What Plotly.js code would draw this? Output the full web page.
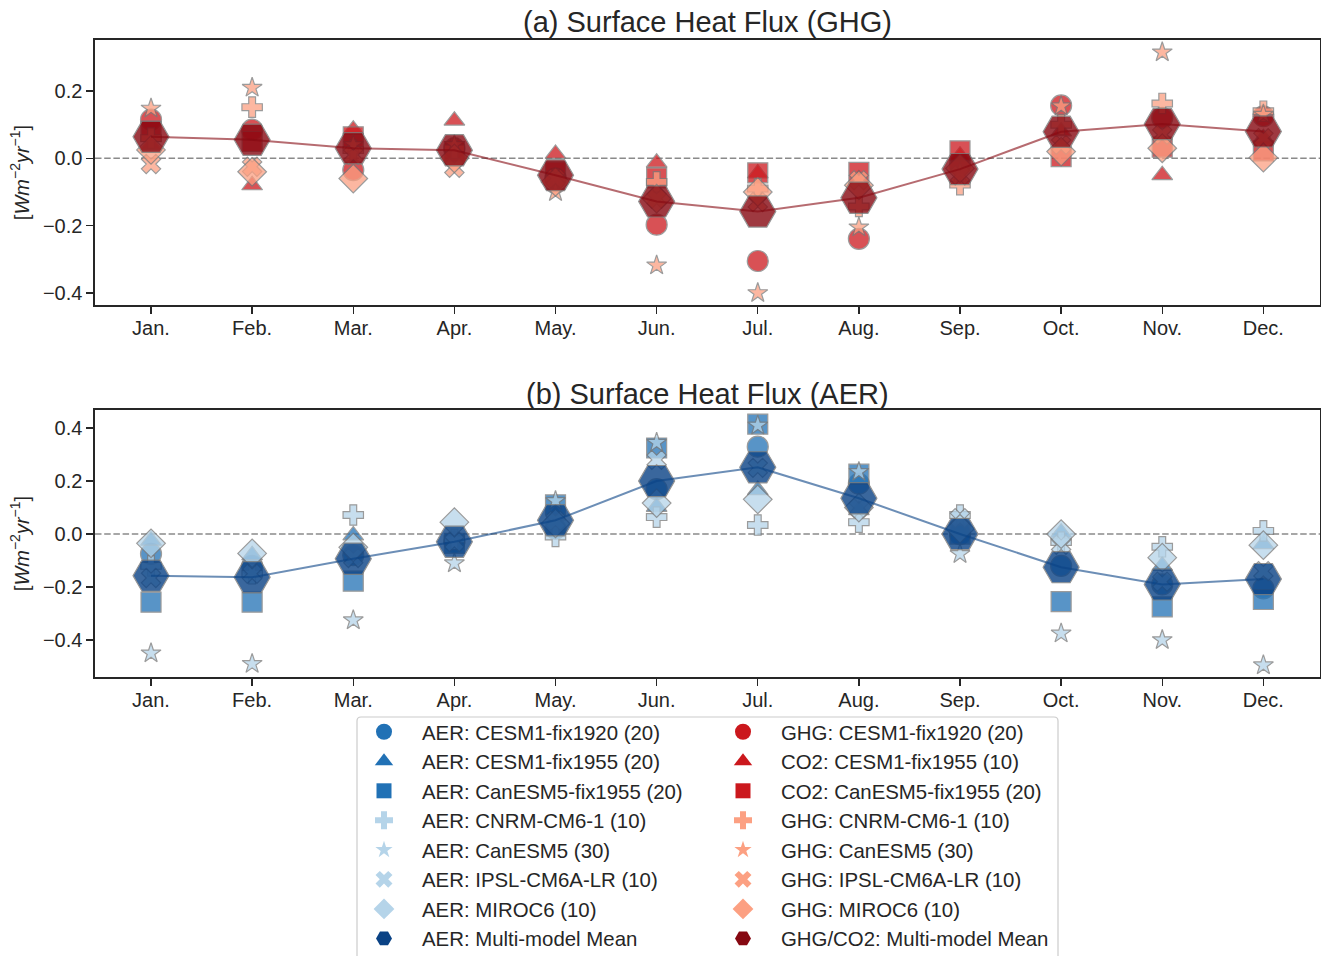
<!DOCTYPE html>
<html><head><meta charset="utf-8">
<script src="https://cdn.plot.ly/plotly-3.0.1.min.js"></script>
<style>html,body{margin:0;padding:0;background:#fff}#chart{width:1321px;height:956px}</style>
</head><body><div id="chart"></div>
<script>
const months = ['Jan.','Feb.','Mar.','Apr.','May.','Jun.','Jul.','Aug.','Sep.','Oct.','Nov.','Dec.'];

// Panel (a) Surface Heat Flux (GHG / CO2)
const ghgCesm1920   = [0.115, 0.085, -0.035, 0.03, -0.06, -0.197, -0.305, -0.239, -0.02, 0.157, 0.12, 0.125];
const co2Cesm1955   = [0.04, -0.08, 0.085, 0.112, 0.013, -0.013, -0.045, -0.063, 0.008, 0.08, -0.05, 0.06];
const co2Can1955    = [0.08, 0.05, 0.064, 0.02, -0.04, -0.058, -0.043, -0.042, 0.022, 0.005, 0.033, 0.022];
const ghgCnrm       = [0.06, 0.152, 0.025, 0.03, -0.06, -0.07, -0.09, -0.143, -0.078, 0.1, 0.163, 0.14];
const ghgCanesm5    = [0.148, 0.21, 0.04, 0.04, -0.1, -0.318, -0.4, -0.205, -0.04, 0.155, 0.315, 0.13];
const ghgIpsl       = [-0.017, -0.025, 0.01, -0.028, -0.06, -0.12, -0.13, -0.065, -0.05, 0.04, 0.07, 0.06];
const ghgMiroc6     = [0.025, -0.04, -0.06, 0.0, -0.07, -0.12, -0.1, -0.08, -0.03, 0.02, 0.03, 0.002];
const ghgMean       = [0.064, 0.055, 0.03, 0.024, -0.05, -0.128, -0.158, -0.117, -0.032, 0.079, 0.102, 0.08];

// Panel (b) Surface Heat Flux (AER)
const aerCesm1920   = [-0.075, -0.12, -0.08, -0.03, 0.02, 0.17, 0.33, 0.19, 0.0, -0.12, -0.19, -0.205];
const aerCesm1955   = [-0.025, -0.08, -0.005, -0.02, 0.07, 0.103, 0.166, 0.09, 0.01, 0.005, -0.12, -0.038];
const aerCan1955    = [-0.257, -0.257, -0.178, -0.035, 0.11, 0.325, 0.415, 0.226, 0.0, -0.255, -0.275, -0.247];
const aerCnrm       = [-0.12, -0.15, 0.072, -0.02, -0.009, 0.064, 0.034, 0.045, 0.072, -0.03, -0.048, 0.012];
const aerCanesm5    = [-0.45, -0.49, -0.325, -0.11, 0.125, 0.345, 0.41, 0.235, -0.075, -0.375, -0.4, -0.495];
const aerIpsl       = [-0.166, -0.15, -0.09, -0.03, 0.05, 0.28, 0.25, 0.098, 0.06, -0.04, -0.18, -0.14];
const aerMiroc6     = [-0.035, -0.073, -0.05, 0.045, 0.04, 0.117, 0.131, 0.1, 0.02, 0.0, -0.089, -0.042];
const aerMean       = [-0.157, -0.163, -0.093, -0.029, 0.052, 0.2, 0.252, 0.135, 0.0, -0.125, -0.19, -0.17];

const aerNames = ['AER: CESM1-fix1920 (20)','AER: CESM1-fix1955 (20)','AER: CanESM5-fix1955 (20)','AER: CNRM-CM6-1 (10)','AER: CanESM5 (30)','AER: IPSL-CM6A-LR (10)','AER: MIROC6 (10)','AER: Multi-model Mean'];
const ghgNames = ['GHG: CESM1-fix1920 (20)','CO2: CESM1-fix1955 (10)','CO2: CanESM5-fix1955 (20)','GHG: CNRM-CM6-1 (10)','GHG: CanESM5 (30)','GHG: IPSL-CM6A-LR (10)','GHG: MIROC6 (10)','GHG/CO2: Multi-model Mean'];

const ghgSeries = [ghgCesm1920, co2Cesm1955, co2Can1955, ghgCnrm, ghgCanesm5, ghgIpsl, ghgMiroc6];
const aerSeries = [aerCesm1920, aerCesm1955, aerCan1955, aerCnrm, aerCanesm5, aerIpsl, aerMiroc6];

// styles
const symbols = ['circle','triangle-up','square','cross','star','x','diamond'];
const plotSizes = [21, 18, 20, 17, 15, 17, 22];
const legendSizes = [16, 16, 15, 15, 13, 15, 16];
const aerColors = ['#2171b5','#2171b5','#2171b5','#b5d4e9','#b5d4e9','#b5d4e9','#b5d4e9'];
const ghgColors = ['#cb181d','#cb181d','#cb181d','#fca082','#fca082','#fca082','#fca082'];
const aerMeanColor = '#0a4285';
const ghgMeanColor = '#860811';
const edge = {color:'#7a7a7a', width:1.2};

const traces = [];
function addPanel(series, colors, meanVals, meanColor, xa, ya){
  series.forEach((vals,i)=>{
    traces.push({type:'scatter', mode:'markers', x:months, y:vals, xaxis:xa, yaxis:ya, showlegend:false, hoverinfo:'skip',
      marker:{symbol:symbols[i], size:plotSizes[i], color:colors[i], opacity:0.75, line:edge}});
  });
  traces.push({type:'scatter', mode:'markers', x:months, y:meanVals, xaxis:xa, yaxis:ya, showlegend:false, hoverinfo:'skip',
    marker:{symbol:'hexagon2', size:36, color:meanColor, opacity:0.8, line:edge}});
  traces.push({type:'scatter', mode:'lines', x:months, y:meanVals, xaxis:xa, yaxis:ya, showlegend:false, hoverinfo:'skip',
    line:{color:meanColor, width:2}, opacity:0.6});
}
addPanel(ghgSeries, ghgColors, ghgMean, ghgMeanColor, 'x', 'y');
addPanel(aerSeries, aerColors, aerMean, aerMeanColor, 'x2', 'y2');

// legend entries
function addLegend(names, colors, meanColor, legendId){
  names.forEach((nm,i)=>{
    const isMean = i === 7;
    traces.push({type:'scatter', mode:'markers', x:[null], y:[null], xaxis:'x', yaxis:'y', name:nm, legend:legendId, showlegend:true,
      marker:{symbol: isMean ? 'hexagon2' : symbols[i], size: isMean ? 16 : legendSizes[i], color: isMean ? meanColor : colors[i], line:{width:0}}});
  });
}
addLegend(aerNames, aerColors, aerMeanColor, 'legend');
addLegend(ghgNames, ghgColors, ghgMeanColor, 'legend2');

const txt = '#262626';
const font = {family:'"Liberation Sans", Arial, sans-serif', size:20, color:txt};
const axisCommon = {showline:true, mirror:true, linecolor:txt, linewidth:1.6, ticks:'outside', ticklen:7, tickwidth:1.4,
  tickcolor:txt, showgrid:false, zeroline:false, tickfont:{size:20, color:txt}, fixedrange:true};
const ytitle = {text:'[<i>Wm</i><sup>−2</sup><i>yr</i><sup>−1</sup>]', font:{size:20, color:txt}, standoff:8};

const W = 1225, H = 637;
function px(x){return (x-95)/W;}
function py(y){return (677-y)/H;}
const bx0=px(357), bx1=px(1058), by0=py(717), by1=py(962), rx=4/W, ry=4/H;
const boxPath = `M${bx0+rx},${by0} L${bx1-rx},${by0} Q${bx1},${by0} ${bx1},${by0-ry} L${bx1},${by1+ry} Q${bx1},${by1} ${bx1-rx},${by1} L${bx0+rx},${by1} Q${bx0},${by1} ${bx0},${by1+ry} L${bx0},${by0-ry} Q${bx0},${by0} ${bx0+rx},${by0} Z`;

const legendCommon = {orientation:'v', xanchor:'left', yanchor:'top', y:py(712), bgcolor:'rgba(0,0,0,0)', borderwidth:0,
  font:{size:20.4, color:txt}, itemwidth:66, tracegroupgap:0, itemclick:false, itemdoubleclick:false};

const layout = {
  width:1321, height:956, margin:{l:95, r:1, t:40, b:279, autoexpand:false},
  paper_bgcolor:'#fff', plot_bgcolor:'#fff', font:font, hovermode:false,
  xaxis:Object.assign({}, axisCommon, {type:'category', range:[-0.554, 11.56], anchor:'y', domain:[0,1], ticklabelstandoff:-3}),
  yaxis:Object.assign({}, axisCommon, {range:[-0.4357, 0.3515], dtick:0.2, tickformat:'.1f', domain:[0.584,1], anchor:'x', title:ytitle}),
  xaxis2:Object.assign({}, axisCommon, {type:'category', range:[-0.554, 11.56], anchor:'y2', domain:[0,1], ticklabelstandoff:-3}),
  yaxis2:Object.assign({}, axisCommon, {range:[-0.5396, 0.468], dtick:0.2, tickformat:'.1f', domain:[0,0.419], anchor:'x2', title:ytitle}),
  legend:Object.assign({}, legendCommon, {x:px(346)}),
  legend2:Object.assign({}, legendCommon, {x:px(705)}),
  annotations:[
    {text:'(a) Surface Heat Flux (GHG)', xref:'paper', yref:'paper', x:0.5, y:py(22), xanchor:'center', yanchor:'middle', showarrow:false, font:{size:29, color:txt}},
    {text:'(b) Surface Heat Flux (AER)', xref:'paper', yref:'paper', x:0.5, y:py(394), xanchor:'center', yanchor:'middle', showarrow:false, font:{size:29, color:txt}}
  ],
  shapes:[
    {type:'line', xref:'x domain', yref:'y', x0:0, x1:1, y0:0, y1:0, layer:'below', line:{color:'#8a8a8a', width:1.4, dash:'6.5px,2.7px'}},
    {type:'line', xref:'x2 domain', yref:'y2', x0:0, x1:1, y0:0, y1:0, layer:'below', line:{color:'#8a8a8a', width:1.4, dash:'6.5px,2.7px'}},
    {type:'path', xref:'paper', yref:'paper', path:boxPath, line:{color:'#cccccc', width:1.2}, fillcolor:'rgba(0,0,0,0)'}
  ]
};

Plotly.newPlot('chart', traces, layout, {displayModeBar:false, staticPlot:true});
</script></body></html>
